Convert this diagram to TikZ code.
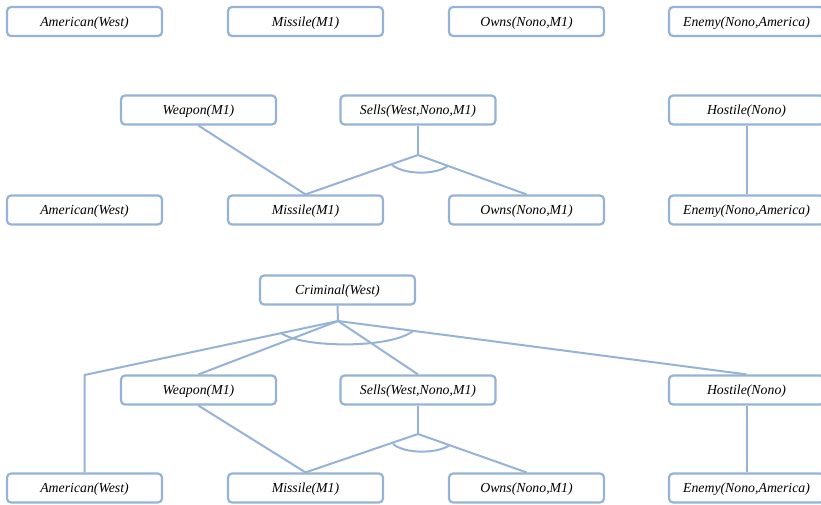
\documentclass[tikz,border=0pt]{standalone}
\usepackage{fontspec}
\setmainfont{Liberation Serif}
\definecolor{edgeblue}{HTML}{95B3D7}
\begin{document}
\begin{tikzpicture}[x=1pt,y=-1pt,
  fact/.style={draw=edgeblue,line width=2.2pt,rounded corners=4pt,fill=white,
    minimum width=155pt,minimum height=29pt,inner sep=0pt,
    text height=10pt,text depth=1pt,
    font=\fontsize{13.8}{16}\selectfont\itshape},
  link/.style={draw=edgeblue,line width=2pt}]
\useasboundingbox (0,0) rectangle (821,504);
\clip (0,0) rectangle (821,504);
% row 1
\node[fact] (a1) at (84.5,21.5) {American(West)};
\node[fact] (m1) at (305.5,21.5) {Missile(M1)};
\node[fact] (o1) at (526.5,21.5) {Owns(Nono,M1)};
\node[fact] (e1) at (746.5,21.5) {Enemy(Nono,America)};
% section 2
\node[fact] (w2) at (198.5,110) {Weapon(M1)};
\node[fact] (s2) at (418,110) {Sells(West,Nono,M1)};
\node[fact] (h2) at (746.5,110) {Hostile(Nono)};
\node[fact] (a2) at (84.5,210) {American(West)};
\node[fact] (m2) at (305.5,210) {Missile(M1)};
\node[fact] (o2) at (526.5,210) {Owns(Nono,M1)};
\node[fact] (e2) at (746.5,210) {Enemy(Nono,America)};
\coordinate (j2) at (418,155);
\draw[link] (w2.south) -- (m2.north);
\draw[link] (s2.south) -- (j2);
\draw[link] (j2) -- (m2.north);
\draw[link] (j2) -- (o2.north);
\draw[link] (392,165) .. controls (405,175) and (435,175) .. (448,166);
\draw[link] (h2.south) -- (e2.north);
% section 3
\node[fact] (c3) at (337.5,290) {Criminal(West)};
\node[fact] (w3) at (198.5,390) {Weapon(M1)};
\node[fact] (s3) at (418,390) {Sells(West,Nono,M1)};
\node[fact] (h3) at (746.5,390) {Hostile(Nono)};
\node[fact] (a3) at (84.5,488) {American(West)};
\node[fact] (m3) at (305.5,488) {Missile(M1)};
\node[fact] (o3) at (526.5,488) {Owns(Nono,M1)};
\node[fact] (e3) at (746.5,488) {Enemy(Nono,America)};
\coordinate (j3) at (338,321);
\coordinate (k3) at (84.5,375);
\coordinate (j4) at (418,434);
\draw[link] (c3.south) -- (j3);
\draw[link,line join=round] (j3) -- (k3) -- (a3.north);
\draw[link] (j3) -- (w3.north);
\draw[link] (j3) -- (s3.north);
\draw[link] (j3) -- (h3.north);
\draw[link] (281,333) .. controls (302,348) and (390,349) .. (413,331);
\draw[link] (w3.south) -- (m3.north);
\draw[link] (s3.south) -- (j4);
\draw[link] (j4) -- (m3.north);
\draw[link] (j4) -- (o3.north);
\draw[link] (393,444) .. controls (405,454) and (437,454) .. (450,445);
\draw[link] (h3.south) -- (e3.north);
\end{tikzpicture}
\end{document}
